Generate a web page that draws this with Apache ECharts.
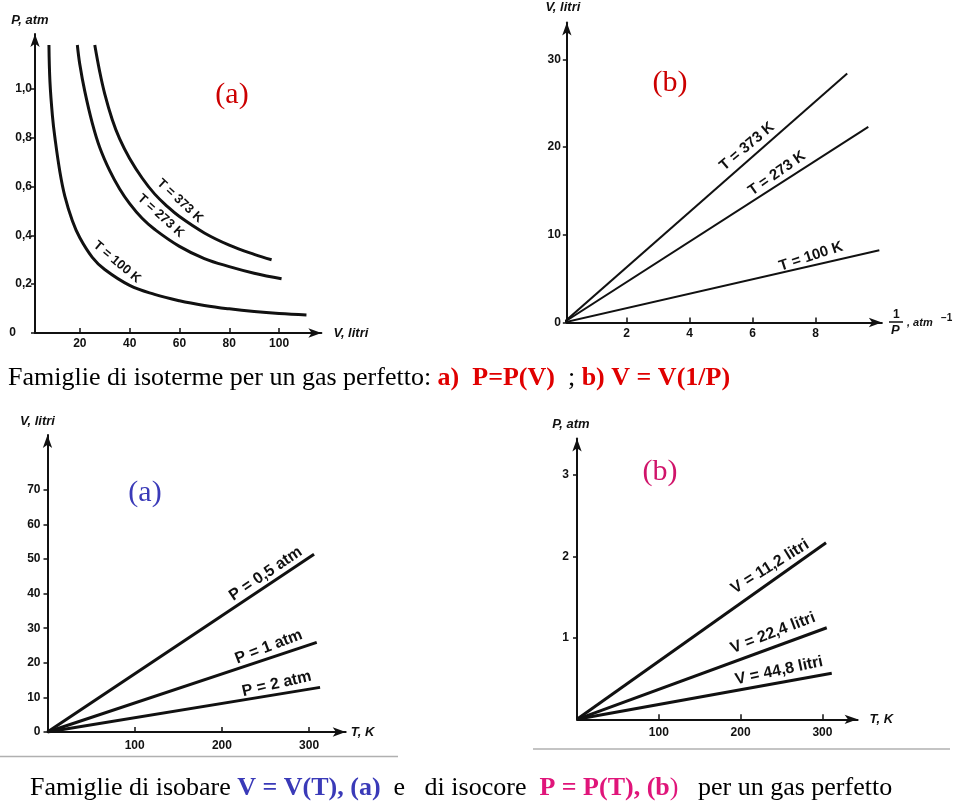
<!DOCTYPE html>
<html><head><meta charset="utf-8">
<script src="https://cdn.jsdelivr.net/npm/echarts@6/dist/echarts.min.js"></script>
<style>html,body{margin:0;padding:0;background:#fff}#c{width:960px;height:805px}</style>
</head><body><div id="c"></div>
<script>
// ---------- DATA ----------
// Panel 1: isotherms P = P(V)   (V in litri, P in atm)
const isoNames = ['T = 100 K', 'T = 273 K', 'T = 373 K'];
const isoV100 = [7.6, 8, 9, 10, 12, 14, 17, 20, 25, 30, 40, 50, 60, 70, 80, 90, 100, 111];
const isoP100 = [1.18, 1.03, 0.89, 0.80, 0.66, 0.56, 0.46, 0.39, 0.31, 0.26, 0.195, 0.158, 0.132, 0.113, 0.099, 0.088, 0.080, 0.074];
const isoV273 = [19, 20, 22, 25, 28, 32, 36, 40, 45, 50, 60, 70, 80, 90, 101];
const isoP273 = [1.18, 1.10, 0.99, 0.86, 0.76, 0.665, 0.59, 0.53, 0.47, 0.425, 0.355, 0.305, 0.272, 0.245, 0.222];
const isoV373 = [26, 28, 30, 33, 36, 40, 45, 50, 55, 60, 70, 80, 90, 97];
const isoP373 = [1.18, 1.07, 0.98, 0.875, 0.795, 0.715, 0.635, 0.57, 0.52, 0.477, 0.41, 0.36, 0.322, 0.30];
const p1XTicks = [20, 40, 60, 80, 100];
const p1YTicks = [0, 0.2, 0.4, 0.6, 0.8, 1.0];

// Panel 2: isotherms V = V(1/P)
const invP373 = [0, 9.0];   const vol373 = [0, 28.4];
const invP273 = [0, 9.67];  const vol273 = [0, 22.3];
const invP100 = [0, 10.02]; const vol100 = [0, 8.24];
const p2XTicks = [2, 4, 6, 8];
const p2YTicks = [0, 10, 20, 30];

// Panel 3: isobars V = V(T)
const isobarNames = ['P = 0,5 atm', 'P = 1 atm', 'P = 2 atm'];
const tP05 = [0, 305.7]; const vP05 = [0, 51.4];
const tP1  = [0, 308.8]; const vP1  = [0, 25.9];
const tP2  = [0, 312.6]; const vP2  = [0, 12.9];
const p3XTicks = [100, 200, 300];
const p3YTicks = [0, 10, 20, 30, 40, 50, 60, 70];

// Panel 4: isochores P = P(T)
const isochoreNames = ['V = 11,2 litri', 'V = 22,4 litri', 'V = 44,8 litri'];
const tV112 = [0, 304.4]; const pV112 = [0, 2.17];
const tV224 = [0, 305.3]; const pV224 = [0, 1.125];
const tV448 = [0, 311.4]; const pV448 = [0, 0.565];
const p4XTicks = [100, 200, 300];
const p4YTicks = [1, 2, 3];

// ---------- BUILD ----------
const zip = (a, b) => a.map((v, i) => [v, b[i]]);
const INK = '#111';
const tickFont = {fontFamily: 'Liberation Sans', fontWeight: 'bold', fontSize: 12, color: INK};
const nameFont = {fontFamily: 'Liberation Sans', fontWeight: 'bold', fontStyle: 'italic', fontSize: 13, color: INK};

function xAxis(gi, min, max, ticks, name, nameGap, margin) {
  return {
    type: 'value', gridIndex: gi, min: min, max: max,
    name: name, nameLocation: 'end', nameGap: nameGap,
    nameTextStyle: Object.assign({}, nameFont),
    splitLine: {show: false},
    axisLine: {show: true, onZero: false, symbol: ['none', 'arrow'], symbolSize: [7, 13],
      lineStyle: {color: INK, width: 2}},
    axisTick: {show: true, inside: true, length: 5, customValues: ticks, lineStyle: {color: INK, width: 1.5}},
    axisLabel: Object.assign({customValues: ticks, margin: margin}, tickFont)
  };
}
function yAxis(gi, min, max, ticks, name, nameGap, shift, margin, fmt, zeroPad) {
  return {
    type: 'value', gridIndex: gi, min: min, max: max,
    name: name, nameLocation: 'end', nameGap: nameGap,
    nameTextStyle: Object.assign({padding: [0, shift, 0, 0]}, nameFont),
    splitLine: {show: false},
    axisLine: {show: true, onZero: false, symbol: ['none', 'arrow'], symbolSize: [7, 13],
      lineStyle: {color: INK, width: 2}},
    axisTick: {show: true, inside: false, length: 4, customValues: ticks, lineStyle: {color: INK, width: 1.5}},
    axisLabel: Object.assign({customValues: ticks, margin: margin, formatter: fmt,
      rich: {z: Object.assign({padding: [0, zeroPad || 0, 0, 0]}, tickFont)}}, tickFont)
  };
}
function curve(gi, xs, ys, name, width, smooth, coord, rot, fs) {
  return {
    type: 'line', name: name, xAxisIndex: gi, yAxisIndex: gi,
    data: zip(xs, ys), smooth: smooth, showSymbol: false, symbol: 'none',
    lineStyle: {color: INK, width: width}, clip: true,
    markPoint: {
      symbol: 'circle', symbolSize: 1, itemStyle: {color: 'rgba(0,0,0,0)'},
      label: {show: true, position: 'inside', formatter: name, rotate: rot,
        fontFamily: 'Liberation Sans', fontWeight: 'bold', fontSize: fs, color: INK},
      data: [{coord: coord}]
    }
  };
}

const fmt1 = v => v === 0 ? '{z|0}' : v.toFixed(1).replace('.', ',');
const fmtI = v => String(v);

const option = {
  backgroundColor: '#fff',
  animation: false,
  grid: [
    {left: 35, top: 34, width: 286.4, height: 299, outerBoundsMode: 'none', containLabel: false},
    {left: 566.85, top: 22.5, width: 315, height: 300, outerBoundsMode: 'none', containLabel: false},
    {left: 47.5, top: 435.1, width: 298.2, height: 296.9, outerBoundsMode: 'none', containLabel: false},
    {left: 577, top: 438.5, width: 280.6, height: 280.8, outerBoundsMode: 'none', containLabel: false}
  ],
  xAxis: [
    xAxis(0, 2, 117, p1XTicks, 'V, litri', 12, 5),
    xAxis(1, 0.1, 10.1, p2XTicks, '', 10, 5),
    xAxis(2, 0, 342, p3XTicks, 'T, K', 5, 8),
    xAxis(3, 0, 343, p4XTicks, 'T, K', 12, 7)
  ],
  yAxis: [
    yAxis(0, 0, 1.225, p1YTicks, 'P, atm', 7, 10, 3, fmt1, 16),
    yAxis(1, 0, 34.2, p2YTicks, 'V, litri', 9, 8, 6, fmtI),
    yAxis(2, 0, 85.8, p3YTicks, 'V, litri', 7, 20, 7, fmtI),
    yAxis(3, 0, 3.45, p4YTicks, 'P, atm', 8, 12, 8, fmtI)
  ],
  series: [
    curve(0, isoV100, isoP100, isoNames[0], 3, 0.4, [34.9, 0.291], -40, 13),
    curve(0, isoV273, isoP273, isoNames[1], 3, 0.4, [52.5, 0.48], -42, 13),
    curve(0, isoV373, isoP373, isoNames[2], 3, 0.4, [60.2, 0.541], -43, 13),

    curve(1, invP373, vol373, isoNames[2], 2, false, [5.82, 20.07], 40, 15),
    curve(1, invP273, vol273, isoNames[1], 2, false, [6.77, 16.99], 35, 15),
    curve(1, invP100, vol100, isoNames[0], 2, false, [7.85, 7.53], 18, 15),

    curve(2, tP05, vP05, isobarNames[0], 3, false, [250.3, 45.7], 34, 16),
    curve(2, tP1, vP1, isobarNames[1], 3, false, [253.8, 24.6], 21, 16),
    curve(2, tP2, vP2, isobarNames[2], 3, false, [262.9, 13.9], 13, 16),

    curve(3, tV112, pV112, isochoreNames[0], 3, false, [236, 1.875], 32, 16),
    curve(3, tV224, pV224, isochoreNames[1], 3, false, [239.6, 1.06], 21, 16),
    curve(3, tV448, pV448, isochoreNames[2], 3, false, [247, 0.597], 12, 16)
  ],
  graphic: [
    // fraction axis name of panel 2
    {type: 'text', left: 893, top: 309, style: {text: '1', font: 'bold 12px "Liberation Sans"', fill: INK}},
    {type: 'line', shape: {x1: 889, y1: 322, x2: 903, y2: 322}, style: {stroke: INK, lineWidth: 1.5}},
    {type: 'text', left: 891, top: 324, style: {text: 'P', font: 'italic bold 13px "Liberation Sans"', fill: INK}},
    {type: 'text', left: 907, top: 317, style: {text: ', atm', font: 'italic bold 11px "Liberation Sans"', fill: INK}},
    {type: 'text', left: 941, top: 313, style: {text: '−1', font: 'bold 10px "Liberation Sans"', fill: INK}},
    // panel letters
    {type: 'text', x: 232, y: 95, style: {text: '(a)', font: '30px "Liberation Serif"', fill: '#cc0000', align: 'center', verticalAlign: 'middle'}},
    {type: 'text', x: 670, y: 83, style: {text: '(b)', font: '30px "Liberation Serif"', fill: '#cc0000', align: 'center', verticalAlign: 'middle'}},
    {type: 'text', x: 145, y: 493, style: {text: '(a)', font: '30px "Liberation Serif"', fill: '#3a3ab8', align: 'center', verticalAlign: 'middle'}},
    {type: 'text', x: 660, y: 472, style: {text: '(b)', font: '30px "Liberation Serif"', fill: '#d0146a', align: 'center', verticalAlign: 'middle'}},
    // separators
    {type: 'line', shape: {x1: 0, y1: 756.5, x2: 398, y2: 756.5}, style: {stroke: '#b0b0b0', lineWidth: 1.5}},
    {type: 'line', shape: {x1: 533, y1: 749, x2: 950, y2: 749}, style: {stroke: '#b0b0b0', lineWidth: 1.5}},
    // captions
    {type: 'text', left: 8, top: 365, style: {
      text: '{n|Famiglie di isoterme per un gas perfetto: }{r|a)  P=P(V)}{n|  ; }{r|b) V = V(1/P)}',
      rich: {
        n: {fontFamily: 'Liberation Serif', fontSize: 26, fill: '#000'},
        r: {fontFamily: 'Liberation Serif', fontSize: 26, fontWeight: 'bold', fill: '#e00000'}
      }}},
    {type: 'text', left: 30, top: 775, style: {
      text: '{n|Famiglie di isobare }{b|V = V(T), (a)}{n|  e   di isocore  }{m|P = P(T), (b}{mn|)}{n|   per un gas perfetto}',
      rich: {
        n: {fontFamily: 'Liberation Serif', fontSize: 26, fill: '#000'},
        b: {fontFamily: 'Liberation Serif', fontSize: 26, fontWeight: 'bold', fill: '#3a3ab8'},
        m: {fontFamily: 'Liberation Serif', fontSize: 26, fontWeight: 'bold', fill: '#e0157a'},
        mn: {fontFamily: 'Liberation Serif', fontSize: 26, fill: '#e0157a'}
      }}}
  ]
};
const chart = echarts.init(document.getElementById('c'), null, {renderer: 'canvas'});
chart.setOption(option);
</script>
</body></html>
